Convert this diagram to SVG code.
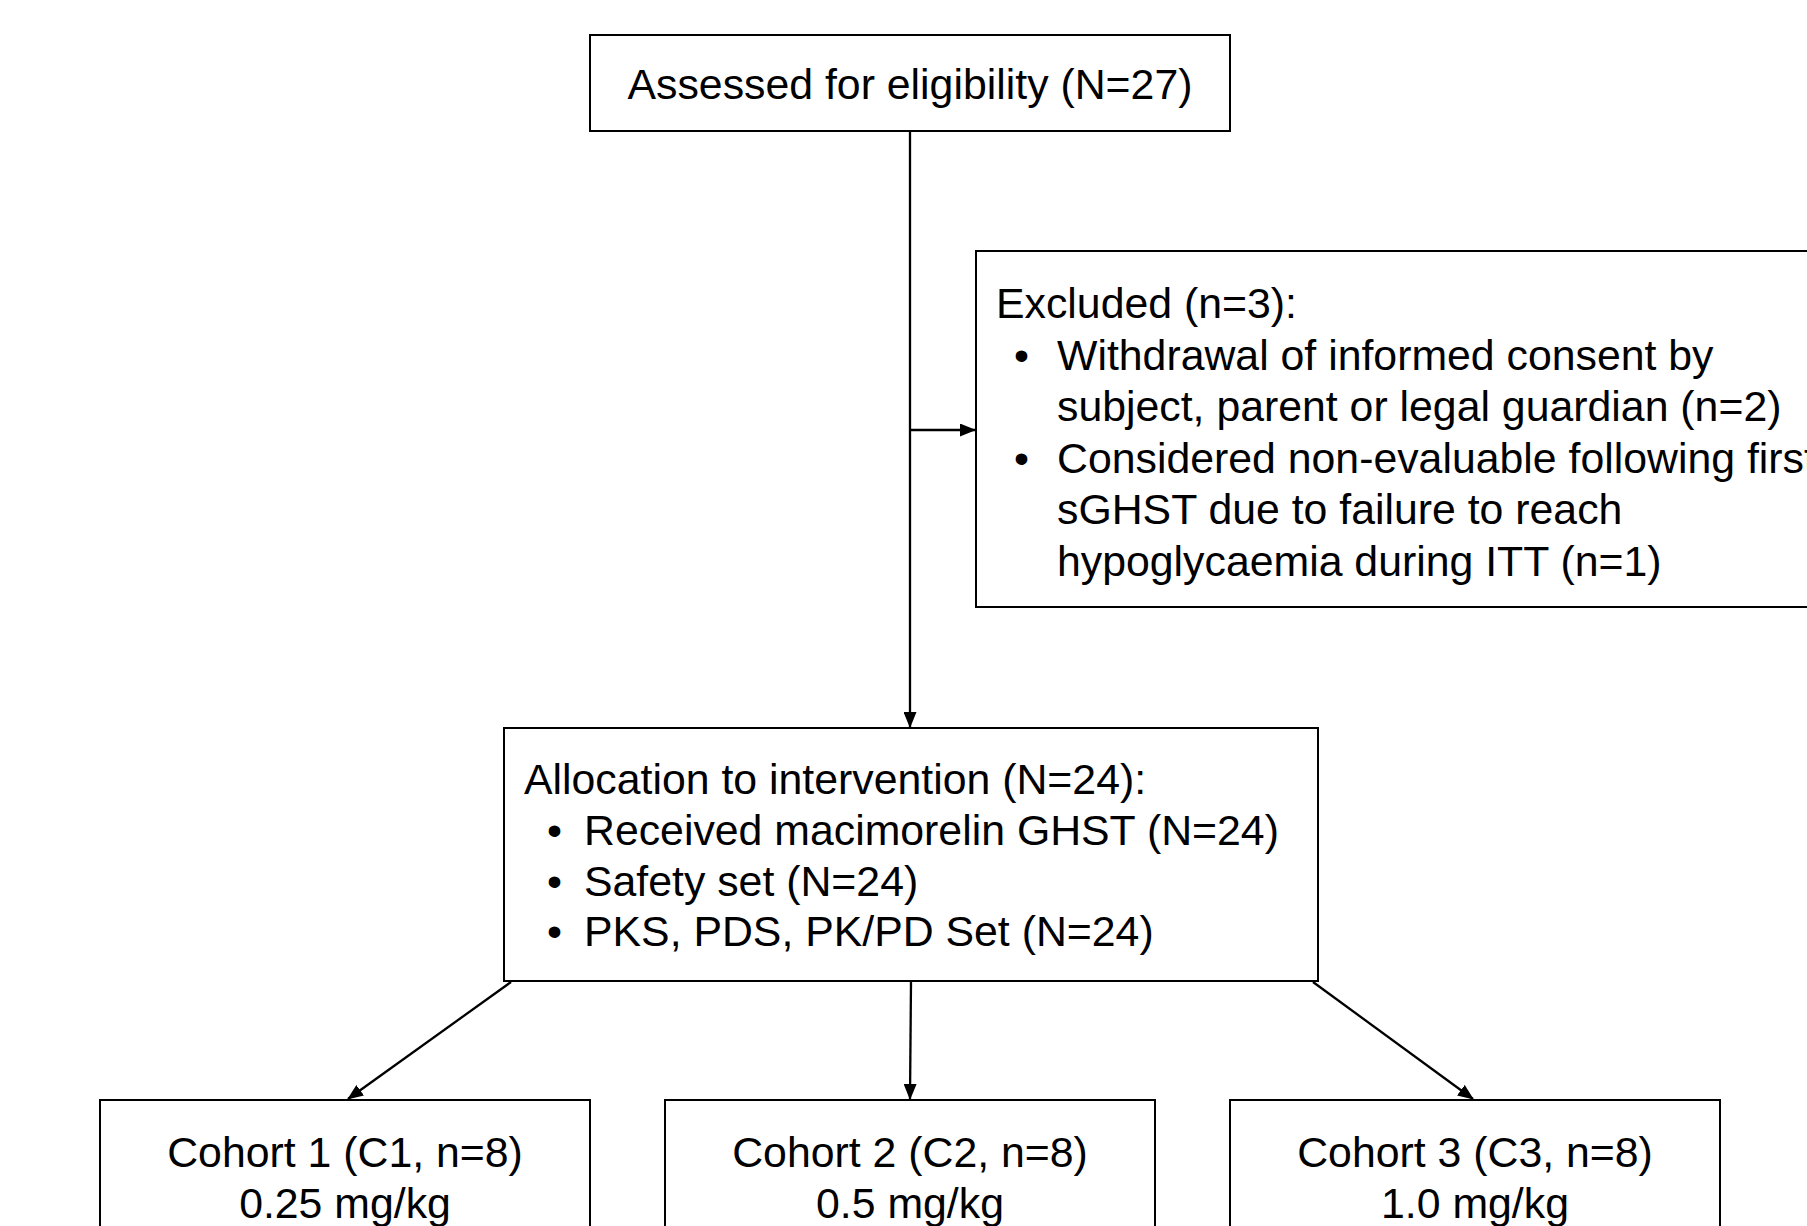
<svg xmlns="http://www.w3.org/2000/svg" width="1807" height="1226" viewBox="0 0 1807 1226">
<defs>
<marker id="ah" markerWidth="16" markerHeight="13" refX="15" refY="6.5" orient="auto" markerUnits="userSpaceOnUse">
<path d="M0,0 L16,6.5 L0,13 Z" fill="#000"/>
</marker>
<style>
.box{fill:#fff;stroke:#000;stroke-width:2}
.t{font-family:"Liberation Sans",Arial,sans-serif;font-size:42.8px;fill:#000}
.c{text-anchor:middle}
.ln{stroke:#000;stroke-width:2.3;fill:none}
</style>
</defs>
<rect width="1807" height="1226" fill="#fff"/>
<g id="connectors">
<line class="ln" x1="910" y1="131" x2="910" y2="727" marker-end="url(#ah)"/>
<line class="ln" x1="910" y1="430" x2="975" y2="430" marker-end="url(#ah)"/>
<line class="ln" x1="511" y1="982" x2="348" y2="1099" marker-end="url(#ah)"/>
<line class="ln" x1="911" y1="982" x2="910" y2="1099" marker-end="url(#ah)"/>
<line class="ln" x1="1313" y1="982" x2="1473" y2="1099" marker-end="url(#ah)"/>
</g>
<g id="assessed">
<rect class="box" x="590" y="35" width="640" height="96"/>
<text class="t c" x="910" y="99">Assessed for eligibility (N=27)</text>
</g>
<g id="excluded">
<rect class="box" x="976" y="251" width="860" height="356"/>
<text class="t" x="996" y="318">Excluded (n=3):</text>
<text class="t" x="1014" y="370">•</text>
<text class="t" x="1057" y="370">Withdrawal of informed consent by</text>
<text class="t" x="1057" y="421">subject, parent or legal guardian (n=2)</text>
<text class="t" x="1014" y="473">•</text>
<text class="t" x="1057" y="473">Considered non-evaluable following first</text>
<text class="t" x="1057" y="524">sGHST due to failure to reach</text>
<text class="t" x="1057" y="576">hypoglycaemia during ITT (n=1)</text>
</g>
<g id="allocation">
<rect class="box" x="504" y="728" width="814" height="253"/>
<text class="t" x="524" y="794">Allocation to intervention (N=24):</text>
<text class="t" x="547" y="845">•</text>
<text class="t" x="584" y="845">Received macimorelin GHST (N=24)</text>
<text class="t" x="547" y="896">•</text>
<text class="t" x="584" y="896">Safety set (N=24)</text>
<text class="t" x="547" y="946">•</text>
<text class="t" x="584" y="946">PKS, PDS, PK/PD Set (N=24)</text>
</g>
<g id="cohort1">
<rect class="box" x="100" y="1100" width="490" height="160"/>
<text class="t c" x="345" y="1167">Cohort 1 (C1, n=8)</text>
<text class="t c" x="345" y="1218">0.25 mg/kg</text>
</g>
<g id="cohort2">
<rect class="box" x="665" y="1100" width="490" height="160"/>
<text class="t c" x="910" y="1167">Cohort 2 (C2, n=8)</text>
<text class="t c" x="910" y="1218">0.5 mg/kg</text>
</g>
<g id="cohort3">
<rect class="box" x="1230" y="1100" width="490" height="160"/>
<text class="t c" x="1475" y="1167">Cohort 3 (C3, n=8)</text>
<text class="t c" x="1475" y="1218">1.0 mg/kg</text>
</g>
</svg>
